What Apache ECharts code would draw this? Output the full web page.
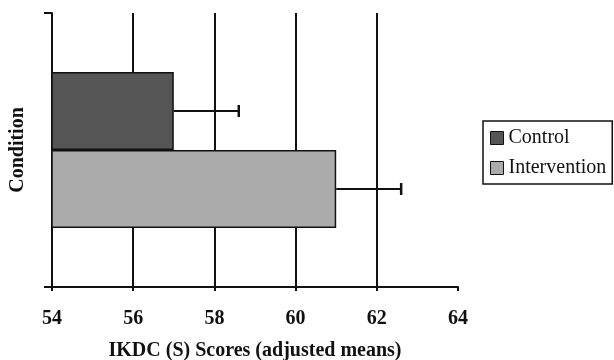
<!DOCTYPE html>
<html>
<head>
<meta charset="utf-8">
<script src="https://cdn.jsdelivr.net/npm/echarts@6/dist/echarts.min.js"></script>
<style>
  html, body { margin: 0; padding: 0; background: #fff; }
  #chart { width: 614px; height: 360px; }
</style>
</head>
<body>
<div id="chart"></div>
<script>
const categories = ["Condition"];
const groups = ["Control", "Intervention"];
const means = [57.0, 61.0];
const errUpper = [58.6, 62.6];
const xTicks = [54, 56, 58, 60, 62, 64];

const colors = ["#555555", "#ababab"];
const FONT = "Liberation Serif";
const BAR_W = 78;

const chart = echarts.init(document.getElementById("chart"));

// bars, one series per group
const barSeries = groups.map((g, i) => ({
  name: g,
  type: "bar",
  data: [means[i]],
  barWidth: BAR_W,
  barGap: "0%",
  itemStyle: { color: colors[i], borderColor: "#111", borderWidth: 1.5 },
  z: 3,
}));

// error bars (upper side only, like the original)
const errData = groups.map((g, i) => [means[i], errUpper[i], 0, i]);
const errSeries = {
  type: "custom",
  data: errData,
  encode: { x: [0, 1], y: 2 },
  z: 4,
  renderItem: (params, api) => {
    const p0 = api.coord([api.value(0), api.value(2)]);
    const p1 = api.coord([api.value(1), api.value(2)]);
    const off = (api.value(3) - (groups.length - 1) / 2) * BAR_W;
    const y = p0[1] + off;
    const st = { stroke: "#111", lineWidth: 2 };
    return {
      type: "group",
      children: [
        { type: "line", shape: { x1: p0[0], y1: y, x2: p1[0], y2: y }, style: st },
        { type: "line", shape: { x1: p1[0], y1: y - 6, x2: p1[0], y2: y + 6 }, style: { stroke: "#111", lineWidth: 2.5 } },
      ],
    };
  },
};

chart.setOption({
  animation: false,
  backgroundColor: "#fff",
  grid: { left: 52, right: 156, top: 13, bottom: 73, outerBoundsMode: "none" },
  legend: {
    data: groups,
    orient: "vertical",
    left: 483,
    top: 121,
    padding: [7, 6, 6, 7],
    itemGap: 10,
    itemWidth: 13,
    itemHeight: 13,
    icon: "rect",
    borderColor: "#111",
    borderWidth: 1.5,
    itemStyle: { borderColor: "#111", borderWidth: 1 },
    textStyle: { fontFamily: FONT, fontSize: 20, color: "#111", padding: [0, 0, 0, 0] },
  },
  xAxis: {
    type: "value",
    min: 54,
    max: 64,
    interval: 2,
    name: "IKDC (S) Scores (adjusted means)",
    nameLocation: "middle",
    nameGap: 54,
    nameTextStyle: { fontFamily: FONT, fontSize: 20, fontWeight: "bold", color: "#111" },
    axisLine: { show: true, lineStyle: { color: "#111", width: 2 } },
    axisTick: { show: true, length: 4, lineStyle: { color: "#111", width: 2 } },
    axisLabel: {
      margin: 22,
      fontFamily: FONT,
      fontSize: 20,
      fontWeight: "bold",
      color: "#111",
      formatter: (v) => (xTicks.includes(v) ? String(v) : ""),
    },
    splitLine: { show: true, showMinLine: false, showMaxLine: false, lineStyle: { color: "#111", width: 2 } },
  },
  yAxis: {
    type: "category",
    data: categories,
    inverse: true,
    name: "Condition",
    nameLocation: "middle",
    nameGap: 24,
    nameTextStyle: { fontFamily: FONT, fontSize: 20, fontWeight: "bold", color: "#111" },
    axisLine: { show: true, lineStyle: { color: "#111", width: 2 } },
    axisTick: { show: true, length: 8, lineStyle: { color: "#111", width: 2 } },
    axisLabel: { show: false },
    splitLine: { show: false },
  },
  series: [...barSeries, errSeries],
});
</script>
</body>
</html>
